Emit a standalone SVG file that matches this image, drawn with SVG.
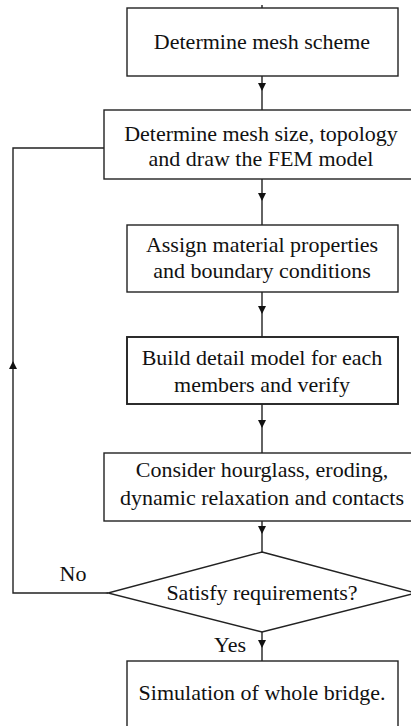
<svg xmlns="http://www.w3.org/2000/svg" width="411" height="726" viewBox="0 0 411 726">
<style>
.box{fill:#fff;stroke:#222;stroke-width:1.4}
.bold{stroke-width:1.9}
.t{font-family:"Liberation Serif","Times New Roman",serif;font-size:22px;fill:#111;text-anchor:middle}
.c{fill:none;stroke:#222;stroke-width:1.4}
</style>
<defs>
<marker id="ah" markerWidth="8" markerHeight="9" refX="7" refY="4" orient="auto" markerUnits="userSpaceOnUse">
<path d="M0,0 L8,4 L0,8 Z" fill="#111"/>
</marker>
</defs>
<rect width="411" height="726" fill="#fff"/>
<g id="connectors">
<line class="c" x1="262" y1="5" x2="262" y2="8"/>
<path class="c" d="M262,76 V90" marker-end="url(#ah)"/><path class="c" d="M262,89 V110"/>
<path class="c" d="M262,179 V200" marker-end="url(#ah)"/><path class="c" d="M262,199 V225"/>
<path class="c" d="M262,292 V313" marker-end="url(#ah)"/><path class="c" d="M262,312 V337"/>
<path class="c" d="M262,404 V427" marker-end="url(#ah)"/><path class="c" d="M262,426 V453"/>
<path class="c" d="M262,521 V533" marker-end="url(#ah)"/><path class="c" d="M262,532 V552"/>
<path class="c" d="M262,632 V647" marker-end="url(#ah)"/><path class="c" d="M262,646 V661"/>
<path class="c" d="M108,593 H13 V362" marker-end="url(#ah)"/><path class="c" d="M13,363 V148 H104"/>
<text class="t" x="73" y="581">No</text>
<text class="t" x="230" y="652">Yes</text>
</g>
<g id="n1">
<rect class="box" x="127" y="8" width="271" height="68"/>
<text class="t" x="262" y="49">Determine mesh scheme</text>
</g>
<g id="n2">
<rect class="box" x="104" y="110" width="316" height="69"/>
<text class="t" x="261" y="141">Determine mesh size, topology</text>
<text class="t" x="261" y="166">and draw the FEM model</text>
</g>
<g id="n3">
<rect class="box" x="127" y="225" width="271" height="67"/>
<text class="t" x="262" y="252">Assign material properties</text>
<text class="t" x="262" y="278">and boundary conditions</text>
</g>
<g id="n4">
<rect class="box bold" x="127" y="337" width="271" height="67"/>
<text class="t" x="262" y="365">Build detail model for each</text>
<text class="t" x="262" y="392">members and verify</text>
</g>
<g id="n5">
<rect class="box" x="104" y="453" width="316" height="68"/>
<text class="t" x="262" y="477">Consider hourglass, eroding,</text>
<text class="t" x="262" y="505">dynamic relaxation and contacts</text>
</g>
<g id="n6">
<polygon class="box" points="262,552 416,593 262,632 108,593"/>
<text class="t" x="262" y="600">Satisfy requirements?</text>
</g>
<g id="n7">
<rect class="box" x="127" y="661" width="271" height="80"/>
<text class="t" x="262" y="700">Simulation of whole bridge.</text>
</g>
</svg>
